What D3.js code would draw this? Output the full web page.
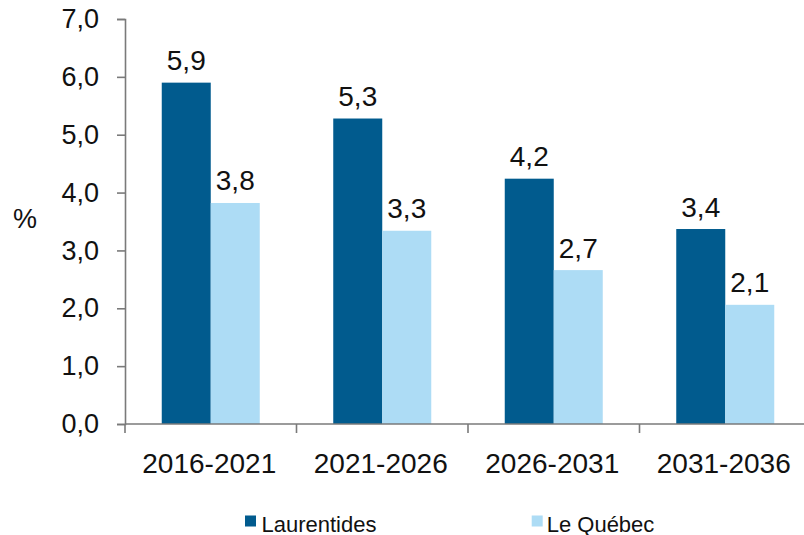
<!DOCTYPE html>
<html><head><meta charset="utf-8">
<script src="https://cdn.jsdelivr.net/npm/d3@7"></script>
<style>
html,body{margin:0;padding:0;background:#fff;overflow:hidden}
text{font-family:"Liberation Sans",Arial,sans-serif;fill:#111}
</style></head>
<body>
<svg id="chart" width="804" height="535"></svg>
<script>
const categories = ["2016-2021", "2021-2026", "2026-2031", "2031-2036"];
const seriesNames = ["Laurentides", "Le Québec"];
const laurentides = [5.9, 5.28, 4.24, 3.37];
const quebec = [3.82, 3.34, 2.66, 2.06];
const yTicks = [0, 1, 2, 3, 4, 5, 6, 7];
const colors = ["#015B8E", "#ADDCF5"];

const svg = d3.select("#chart");
const x0 = 125, yBottom = 424, yTop = 19;

const x = d3.scaleBand().domain(categories).range([x0, x0 + 171.5 * 4]).paddingInner(0).paddingOuter(0);
const x1 = d3.scaleBand().domain(seriesNames).range([0, x.bandwidth()]).paddingInner(0).paddingOuter(0.75);
const y = d3.scaleLinear().domain([0, 7]).range([yBottom, yTop]);

const fmt = v => v.toFixed(1).replace(".", ",");
const axisColor = "#7a7a7a";

// Y axis
const yAxis = svg.append("g").attr("transform", `translate(${x0},0)`)
  .call(d3.axisLeft(y).tickValues(yTicks).tickSize(8).tickSizeOuter(8).tickPadding(18).tickFormat(fmt));
yAxis.selectAll("path,line").attr("stroke", axisColor).attr("stroke-width", 1.6);
yAxis.selectAll("text").attr("font-size", 27).attr("font-family", "Liberation Sans, Arial, sans-serif").attr("fill", "#111");

// Bars
const data = categories.map((c, i) => ({ cat: c, vals: [laurentides[i], quebec[i]] }));
const groups = svg.append("g").selectAll("g").data(data).join("g")
  .attr("transform", d => `translate(${x(d.cat)},0)`);
groups.selectAll("rect").data(d => d.vals.map((v, j) => ({ v, s: seriesNames[j], j })))
  .join("rect")
  .attr("x", d => x1(d.s))
  .attr("width", x1.bandwidth())
  .attr("y", d => y(d.v))
  .attr("height", d => yBottom - y(d.v))
  .attr("fill", d => colors[d.j]);
groups.selectAll("text.val").data(d => d.vals.map((v, j) => ({ v, s: seriesNames[j], j })))
  .join("text").attr("class", "val")
  .attr("x", d => x1(d.s) + x1.bandwidth() / 2)
  .attr("y", d => y(d.v) - 12.5)
  .attr("text-anchor", "middle")
  .attr("font-size", 28)
  .text(d => fmt(d.v));

// X axis
const xg = svg.append("g");
xg.append("line").attr("x1", x0).attr("x2", 804).attr("y1", yBottom).attr("y2", yBottom)
  .attr("stroke", axisColor).attr("stroke-width", 1.6);
xg.selectAll("line.tick").data(categories).join("line").attr("class", "tick")
  .attr("x1", d => x(d)).attr("x2", d => x(d))
  .attr("y1", yBottom).attr("y2", yBottom + 9)
  .attr("stroke", axisColor).attr("stroke-width", 1.6);
xg.selectAll("text").data(categories).join("text")
  .attr("x", d => x(d) + x.bandwidth() / 2 - 1.5)
  .attr("y", 472.5)
  .attr("text-anchor", "middle")
  .attr("font-size", 28)
  .text(d => d);

// Y label
svg.append("text").attr("x", 25).attr("y", 228).attr("text-anchor", "middle")
  .attr("font-size", 27).text("%");

// Legend
const legendX = [245, 531.7];
const lg = svg.append("g").selectAll("g").data(seriesNames).join("g")
  .attr("transform", (d, i) => `translate(${legendX[i]},0)`);
lg.append("rect").attr("x", 0).attr("y", 515.5).attr("width", 11).attr("height", 11)
  .attr("fill", (d, i) => colors[i]);
lg.append("text").attr("x", (d, i) => i === 0 ? 16.5 : 15).attr("y", 531.5)
  .attr("font-size", 22).text(d => d);
</script>
</body></html>
